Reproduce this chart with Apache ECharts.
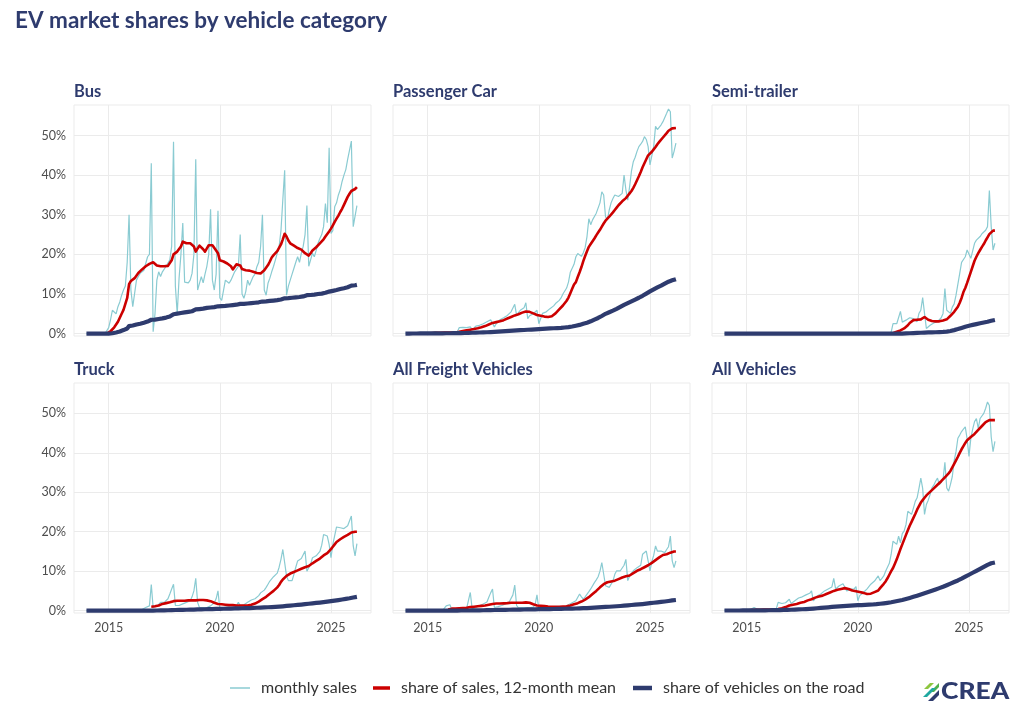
<!DOCTYPE html>
<html><head><meta charset="utf-8">
<script src="https://cdn.jsdelivr.net/npm/echarts@6.0.0/dist/echarts.min.js"></script>
<style>html,body{margin:0;padding:0;background:#fff}#c{width:1024px;height:717px}</style>
</head><body><div id="c"></div>
<script>
// ---- data: monthly values in %, first value = Jan 2014, last = Mar 2026 ----
const startYear = 2014;
const panelNames = ['Bus', 'Passenger Car', 'Semi-trailer', 'Truck', 'All Freight Vehicles', 'All Vehicles'];
const seriesNames = ['monthly sales', 'share of sales, 12-month mean', 'share of vehicles on the road'];
const xTicks = [2015, 2020, 2025];
const yTicks = [0, 10, 20, 30, 40, 50];

const busMonthly = [
0,0,0,0,0,0,0,0,0,0,0,0.5,
1.5,3.5,5.9,5.5,5,6.8,8,9.7,11,12,18,30,
11,6.8,6.3,13.5,14.4,15.2,14.8,16,16.5,19.4,20,43,
0.5,5,13.5,15.6,14.4,15.6,16,17,16.5,18.6,22,48.4,
12,5,14,20,27.9,13,12.8,12.8,13.5,15.2,20,44,
11,11,14.4,12.8,15,17,20,31.4,13.5,11,15,31,
9,8.4,8,13.5,13,12.7,13.5,14,15.6,16,17,25,
10,8.9,10.6,13.5,12.2,12,14.4,15,16.9,18,22,30,
11,9.7,12.7,14,15.6,17,18.6,20.3,22,26,33.8,41.2,
9.7,12,13.5,15,16.5,18,19.4,18,20.3,22,25,32.3,
17,18.6,20.3,19.4,21,22.8,24,25,27,32.8,28,46.9,
25.3,26,32,33,35,36.3,38.4,40,41.4,44,44.3,48.6,
27,27,32.3];
const busMean = [
null,null,null,null,null,null,null,null,null,null,null,0,
0.3,0.6,1,1.6,2.3,3,4,5,6,7.5,9,12.5,
13.3,13.7,14,14.5,15.3,15.8,16.2,16.7,17,17.3,17.6,18,
18,17.7,17.2,17,17,17,17,17,17.1,17.5,18.5,20,
20.3,20.7,21.1,22,23.2,23,22.8,22.8,22.8,22.5,22,20.7,
21.5,22.2,22,21.3,20.7,21.5,22.3,22.8,22.3,22,21,20.3,
18.5,18.3,18.2,18,17.7,17.5,17,16.2,16.5,17.5,17.7,17.2,
16.3,16,16,16,15.9,15.8,15.6,15.5,15.3,15.2,15.2,15.5,
16,16.5,17.3,18.2,19.2,19.8,20.3,20.8,21.3,22.5,23.8,25.2,
24.5,23.5,22.8,22.4,22.2,22,21.6,21.4,21.2,21,20.3,20,
19.7,20.3,21,21.5,21.8,22.2,22.8,23.3,23.8,24.5,25,25.8,
26.5,27.3,28.2,29,29.8,30.7,31.5,32.5,33.5,34.5,35.3,36,
36.3,36.5,37];
const busStock = [
0,0,0,0,0,0,0,0,0,0,0,0,
0,0.05,0.1,0.2,0.3,0.4,0.55,0.75,0.9,1.1,1.3,1.9,
2,2.05,2.15,2.3,2.4,2.5,2.65,2.75,2.9,3.05,3.2,3.5,
3.5,3.55,3.6,3.7,3.75,3.85,3.95,4.05,4.15,4.3,4.45,4.9,
5,5.05,5.15,5.2,5.3,5.35,5.4,5.5,5.55,5.65,5.75,6.1,
6.15,6.2,6.25,6.3,6.4,6.5,6.55,6.6,6.65,6.7,6.75,6.9,
6.95,6.95,7,7,7.05,7.1,7.15,7.2,7.25,7.3,7.35,7.5,
7.5,7.5,7.55,7.6,7.65,7.7,7.75,7.8,7.85,7.9,7.95,8.1,
8.1,8.15,8.2,8.25,8.3,8.35,8.4,8.45,8.55,8.6,8.7,8.9,
8.9,8.95,9,9.05,9.1,9.15,9.2,9.25,9.3,9.4,9.5,9.7,
9.7,9.75,9.8,9.85,9.9,10,10.05,10.1,10.2,10.3,10.45,10.6,
10.7,10.8,10.9,11,11.1,11.25,11.35,11.45,11.55,11.7,11.85,12.1,
12.15,12.2,12.3];

const carMonthly = [
0.1,0.1,0.1,0.1,0.1,0.1,0.1,0.1,0.1,0.1,0.1,0.2,
0.1,0.2,0.2,0.3,0.5,0.2,0.2,0.2,0.2,0.3,0.3,0.4,
0.2,0.2,0.3,0.3,0.4,1.5,1.1,1.6,1.4,1.5,1.6,1.7,
1,1.2,1.9,2,2.1,2.4,2.5,2.7,3,3.2,3.5,3.8,
1.7,2.5,3,3.5,3.8,4,4.2,4.6,5.1,5.5,5.9,7.4,
4.6,5.3,5.9,5.5,6.5,7.8,3.8,4.5,5,5,5.2,5.9,
2.5,3.8,5.1,5.3,5.5,5.9,6.3,6.7,7,7.6,8,8.4,
9,10,10.5,11.5,13,15.5,16,17.5,19.4,20.2,20,19.5,
20.4,21.7,24.5,29,27.5,28.7,28.7,30.4,30.8,33,35.8,35,
29.5,28.7,31.2,33,34.1,35,35.4,34.6,35,35.4,40,36.3,
33.7,37.1,41,43.4,44.5,46,47.2,47.8,48.5,49.7,49,47.2,
42.6,42.2,47.2,52.3,51.5,51.5,52.7,53.5,53.2,55.6,56.7,56,
44.3,46,48.1];
const carMean = [
null,null,null,null,null,null,null,null,null,null,null,0.1,
0.1,0.1,0.15,0.15,0.2,0.2,0.2,0.2,0.2,0.25,0.25,0.25,
0.25,0.25,0.3,0.3,0.35,0.45,0.55,0.65,0.75,0.85,0.95,1,
1.05,1.15,1.25,1.35,1.5,1.6,1.75,1.9,2.1,2.3,2.5,2.7,
2.8,2.9,3,3.1,3.2,3.4,3.6,3.8,4,4.2,4.4,4.6,
4.7,4.9,5.1,5.3,5.5,5.6,5.6,5.5,5.3,5.1,4.9,4.7,
4.6,4.5,4.4,4.3,4.25,4.2,4.25,4.4,4.7,5.1,5.6,6.1,
6.6,7.1,7.6,8.3,9.1,10.2,11.3,12.4,13,14.3,15.5,16.8,
18.3,19.6,20.8,21.9,22.6,23.3,24,24.8,25.5,26.2,27,27.8,
28.5,29,29.5,30,30.6,31.2,31.8,32.4,32.9,33.4,33.9,34.2,
34.8,35.4,36,36.8,37.7,38.7,39.7,40.8,42,43,44,45,
45.3,45.9,46.5,47.1,47.8,48.4,48.9,49.5,50,50.6,51.2,51.6,
51.8,51.9,51.9];
const carStock = [
0.02,0.02,0.02,0.02,0.03,0.03,0.03,0.03,0.04,0.04,0.04,0.05,
0.05,0.05,0.05,0.06,0.06,0.06,0.07,0.07,0.08,0.08,0.09,0.1,
0.1,0.1,0.11,0.11,0.12,0.13,0.14,0.15,0.16,0.17,0.19,0.21,
0.22,0.23,0.25,0.26,0.28,0.3,0.31,0.33,0.35,0.37,0.4,0.43,
0.45,0.48,0.5,0.53,0.56,0.59,0.62,0.65,0.68,0.71,0.74,0.77,
0.8,0.83,0.86,0.89,0.92,0.95,0.98,1,1.03,1.06,1.09,1.12,
1.15,1.18,1.2,1.22,1.25,1.28,1.3,1.33,1.35,1.38,1.4,1.43,
1.45,1.5,1.55,1.6,1.65,1.7,1.8,1.9,2,2.1,2.2,2.35,
2.5,2.6,2.75,2.9,3.1,3.35,3.55,3.75,3.95,4.2,4.45,4.75,
5,5.2,5.4,5.6,5.8,6,6.25,6.5,6.75,7,7.25,7.5,
7.7,7.9,8.15,8.4,8.6,8.85,9.05,9.3,9.55,9.8,10.1,10.4,
10.65,10.9,11.15,11.4,11.65,11.9,12.1,12.35,12.6,12.85,13.1,13.35,
13.45,13.6,13.75];

const semiMonthly = [
0,0,0,0,0,0,0,0,0,0,0,0,
0,0,0,0,0,0,0,0,0,0,0,0,
0,0,0,0,0,0,0,0,0,0,0,0,
0,0,0,0,0,0,0,0,0,0,0,0,
0,0,0,0,0,0,0,0,0,0,0,0,
0,0,0,0,0,0,0,0,0,0,0,0,
0,0,0,0,0,0,0,0,0,0,0,0,
0,0,0,0,0,0,0.4,2.5,2.1,2.5,2.9,5.6,
2.9,3,3.4,3.7,4,4.2,3.8,3.4,3,5.1,5.9,9.1,
5.1,1.3,1.8,2.1,2.5,2.7,3,3,3,4,5.1,11.4,
5.9,5.5,5.1,6.7,7.5,9.7,10.1,15.2,18,17.7,19.4,21.1,
20.7,19,19.4,22.8,23.6,24,24.5,25.2,25.5,26.1,27,36.1,
27,21.1,22.8];
const semiMean = [
null,null,null,null,null,null,null,null,null,null,null,0,
0,0,0,0,0,0,0,0,0,0,0,0,
0,0,0,0,0,0,0,0,0,0,0,0,
0,0,0,0,0,0,0,0,0,0,0,0,
0,0,0,0,0,0,0,0,0,0,0,0,
0,0,0,0,0,0,0,0,0,0,0,0,
0,0,0,0,0,0,0,0,0,0,0,0,
0,0,0,0,0,0,0,0.1,0.3,0.5,0.6,0.8,
1,1.3,1.7,2.1,2.7,3.2,3.4,3.4,3.5,3.5,3.6,3.9,
4.2,3.8,3.5,3.3,3.2,3.2,3.1,3.1,3.1,3.2,3.3,3.4,
3.6,4,4.5,5,5.5,5.9,6.8,7.8,9,10.5,11.5,12.8,
14.2,15.6,17,18.4,19.4,20.3,21.1,21.9,22.6,23.5,24.3,25.1,
25.5,26,26];
const semiStock = [
0,0,0,0,0,0,0,0,0,0,0,0,
0,0,0,0,0,0,0,0,0,0,0,0,
0,0,0,0,0,0,0,0,0,0,0,0,
0,0,0,0,0,0,0,0,0,0,0,0,
0,0,0,0,0,0,0,0,0,0,0,0,
0,0,0,0,0,0,0,0,0,0,0,0,
0,0,0,0,0,0,0,0,0,0,0,0,
0,0,0,0,0,0,0,0,0,0,0,0,
0.02,0.04,0.06,0.08,0.1,0.12,0.14,0.16,0.18,0.2,0.22,0.25,
0.27,0.28,0.29,0.3,0.31,0.33,0.35,0.37,0.39,0.41,0.43,0.47,
0.5,0.58,0.66,0.76,0.88,1,1.15,1.3,1.45,1.6,1.75,1.9,
2,2.1,2.2,2.3,2.4,2.5,2.6,2.7,2.8,2.9,3,3.15,
3.25,3.35,3.45];

const truckMonthly = [
0,0,0,0,0,0,0,0,0,0,0,0,
0,0,0,0,0,0,0,0,0,0,0,0,
0,0,0,0,0,0,0.3,0.5,0.8,1,1.2,6.6,
0.8,0.9,1.1,1.3,2.1,2.5,2.1,2.3,3,4.2,5.5,6.7,
1.3,1.3,1.3,1.5,1.7,1.9,2.1,2.3,2.5,3.5,5,8.2,
2.1,0.8,0.8,0.8,1.2,0.8,1,1.2,1.5,2,3,5,
0.4,0.4,0.5,0.8,0.8,0.8,0.6,0.6,0.7,1.3,2.1,1.3,
1.3,1.5,1.8,2.1,2.3,2.7,2.9,3,3.4,3.8,4.5,5,
5.2,5.9,6.7,7.5,8,8.6,9,9.5,11,13,15.5,15.5,
8.8,7.6,7.6,7.6,9.2,11,12.6,12.8,13.2,13.4,15.1,10,
10.5,11.8,13.4,13.6,13.9,14.3,15,16.6,19.3,19.3,18.9,16.8,
13.4,16.8,19,21.2,21,21,20.8,20.8,21,21.5,21.8,24,
16.4,13.9,17];
const truckMean = [
null,null,null,null,null,null,null,null,null,null,null,null,
null,null,null,null,null,null,null,null,null,null,null,null,
null,null,null,null,null,null,null,null,null,null,null,1,
1.1,1.1,1.2,1.3,1.5,1.7,1.8,1.9,2,2.1,2.3,2.4,
2.5,2.5,2.5,2.5,2.5,2.5,2.5,2.6,2.6,2.6,2.6,2.6,
2.7,2.7,2.7,2.7,2.6,2.6,2.5,2.4,2.2,2,1.9,1.7,
1.6,1.6,1.5,1.5,1.5,1.4,1.4,1.4,1.3,1.3,1.3,1.3,
1.3,1.3,1.3,1.3,1.4,1.5,1.6,1.8,2,2.3,2.6,2.9,
3.2,3.5,3.9,4.3,4.6,5,5.4,5.9,6.5,7.3,7.9,8.4,
8.8,9.2,9.4,9.6,9.8,10,10.2,10.4,10.6,10.8,11,11.1,
11.3,11.6,12,12.3,12.6,12.9,13.2,13.6,14,14.3,14.6,15,
15.6,16.2,16.8,17.4,17.8,18.1,18.4,18.7,18.9,19.2,19.5,19.8,
19.9,20,20];
const truckStock = [
0,0,0,0,0,0,0,0,0,0,0,0,
0,0,0,0,0,0,0,0,0,0,0,0,
0,0,0,0,0,0,0,0,0,0,0,0,
0.02,0.03,0.04,0.05,0.06,0.07,0.08,0.09,0.1,0.12,0.13,0.15,
0.16,0.17,0.18,0.19,0.2,0.21,0.22,0.23,0.25,0.26,0.28,0.3,
0.31,0.32,0.33,0.34,0.35,0.36,0.37,0.38,0.4,0.41,0.43,0.45,
0.46,0.47,0.48,0.49,0.5,0.51,0.52,0.53,0.55,0.56,0.58,0.6,
0.61,0.62,0.63,0.65,0.66,0.68,0.7,0.71,0.73,0.75,0.77,0.8,
0.82,0.84,0.86,0.88,0.9,0.93,0.96,0.99,1.02,1.06,1.1,1.15,
1.2,1.24,1.28,1.32,1.36,1.4,1.44,1.48,1.53,1.58,1.63,1.7,
1.75,1.8,1.85,1.9,1.95,2,2.05,2.1,2.15,2.2,2.27,2.35,
2.4,2.47,2.54,2.61,2.68,2.75,2.82,2.9,2.98,3.06,3.14,3.25,
3.33,3.42,3.5];

const freightMonthly = [
0,0,0,0,0,0,0,0,0,0,0,0,
0,0,0,0,0,0,0,0,0,0.3,1.2,1.5,
1.5,0.3,0.2,0.2,0.2,0.2,0.3,0.3,0.4,0.5,0.8,4.6,
0.5,0.6,0.8,1,1.2,1.5,1.7,1.8,2.2,3.4,4.5,5.5,
0.8,0.8,1,1.2,1.3,1.5,1.7,1.8,2.2,2.5,4,6.5,
1.3,0.7,0.7,0.8,0.8,0.8,0.7,0.7,0.8,0.9,1.5,4,
0.4,0.4,0.4,0.4,0.4,0.4,0.4,0.4,0.4,0.5,1,1.3,
0.5,0.8,1,1.3,1.5,1.8,2,2.1,2.5,2.8,4.2,3.5,
2.9,3.5,4,4.8,5.5,5.9,7.1,7.8,8.6,10,12.2,12.2,
6.3,6,5.9,5.9,7.5,9.2,10.1,10.1,10.1,10.5,11.5,13,
7.6,8.8,9.5,10.1,10.5,10.9,10.9,11.5,14.3,14.7,15.1,12.6,
10.1,12.5,14,16.4,15.1,15.1,15.1,14.9,14.7,15.5,16.2,18.9,
12.6,10.9,12.6];
const freightMean = [
null,null,null,null,null,null,null,null,null,null,null,null,
null,null,null,null,null,null,null,null,null,null,null,0.3,
0.4,0.5,0.5,0.55,0.6,0.6,0.65,0.65,0.7,0.7,0.75,0.9,
1,1,1.05,1.1,1.15,1.2,1.25,1.3,1.4,1.5,1.65,1.7,
1.8,1.8,1.8,1.8,1.8,1.85,1.9,1.9,1.95,2,2,2,
2,2,2,2,2.05,2.1,2.05,2,1.8,1.6,1.45,1.3,
1.3,1.25,1.2,1.15,1.1,1.05,1.05,1,1,1,1,1,
1,1.05,1.1,1.1,1.15,1.3,1.5,1.6,1.75,1.9,2.1,2.3,
2.5,2.8,3.1,3.4,3.8,4.2,4.6,5,5.4,5.9,6.4,6.7,
7,7.2,7.3,7.4,7.5,7.6,7.8,8,8.2,8.4,8.6,8.7,
8.8,8.9,9.2,9.5,9.8,10.1,10.3,10.5,10.8,11,11.3,11.5,
11.8,12.1,12.4,12.8,13.2,13.5,13.8,14.1,14.2,14.3,14.4,14.7,
14.9,15,15];
const freightStock = [
0,0,0,0,0,0,0,0,0,0,0,0,
0,0,0,0,0,0,0,0,0,0,0,0,
0.01,0.01,0.01,0.02,0.02,0.02,0.03,0.03,0.03,0.04,0.04,0.05,
0.06,0.07,0.07,0.08,0.09,0.1,0.1,0.11,0.12,0.13,0.14,0.15,
0.16,0.17,0.17,0.18,0.19,0.2,0.2,0.21,0.22,0.23,0.24,0.25,
0.26,0.27,0.27,0.28,0.29,0.3,0.3,0.31,0.32,0.33,0.34,0.35,
0.36,0.36,0.37,0.38,0.39,0.39,0.4,0.41,0.42,0.43,0.44,0.45,
0.46,0.47,0.48,0.49,0.5,0.51,0.52,0.53,0.54,0.56,0.58,0.6,
0.62,0.64,0.66,0.68,0.7,0.72,0.75,0.78,0.81,0.84,0.87,0.9,
0.93,0.96,0.99,1.02,1.05,1.08,1.11,1.14,1.18,1.22,1.26,1.3,
1.34,1.38,1.42,1.46,1.5,1.54,1.58,1.62,1.67,1.72,1.78,1.85,
1.9,1.95,2,2.05,2.1,2.15,2.2,2.26,2.32,2.38,2.45,2.55,
2.6,2.65,2.7];

const allMonthly = [
0.1,0.1,0.1,0.1,0.1,0.1,0.1,0.1,0.1,0.1,0.1,0.2,
0.1,0.2,0.3,0.4,0.8,0.4,0.3,0.3,0.3,0.3,0.4,0.5,
0.3,0.3,0.4,0.4,0.5,2.1,1.8,1.8,1.9,2,2.1,2.9,
1.8,2.3,2.5,2.9,3.2,3.4,3.5,3.7,4,4.2,4.4,5,
2.5,2.9,3.7,4,4.2,4.6,5,5,5.5,5.9,6,8.2,
5.5,5.9,6.3,6.5,6.8,7.1,5,5.5,5.4,5,5.5,6.1,
2.5,3.8,4.2,4.6,5,5.5,5.9,6.7,7.1,7.5,7.6,8.8,
7.6,8.2,8.8,10,10.5,12,14.3,17.6,17.2,16.8,18.9,17.2,
19.5,20.2,21.8,25.2,24.8,24.4,26,27.7,28.6,31,33.6,31,
24.4,26.9,28,29.4,31.1,31.8,32.8,33.6,31.9,32.5,33.2,37.6,
31.1,30.3,32,34,38,40.3,43.7,44.5,45.4,46,46.6,43.5,
39.1,43.7,46,47.9,48.7,46.2,48.7,49.2,50,51.3,52.9,52,
44,40.3,42.9];
const allMean = [
null,null,null,null,null,null,null,null,null,null,null,0.1,
0.1,0.1,0.1,0.15,0.15,0.2,0.2,0.2,0.2,0.25,0.25,0.3,
0.3,0.3,0.3,0.35,0.35,0.4,0.5,0.6,0.8,0.9,1.1,1.3,
1.4,1.5,1.6,1.7,1.8,2,2.1,2.2,2.4,2.6,2.7,2.9,
3.1,3.3,3.4,3.6,3.7,3.8,4,4.2,4.4,4.6,4.8,5,
5.2,5.3,5.4,5.5,5.6,5.7,5.6,5.5,5.3,5.1,5,4.9,
4.8,4.7,4.6,4.5,4.3,4.2,4.2,4.3,4.5,4.7,4.9,5.1,
5.7,6.2,6.8,7.4,8.2,9.1,10,10.8,11.9,13,14.3,15.6,
16.8,18,19.2,20.4,21.5,22.5,23.5,24.5,25.6,26.5,27.4,28,
28.6,29.2,29.7,30.1,30.6,31,31.5,31.9,32.3,32.8,33.3,33.8,
34.2,34.8,35.4,36.3,37.2,38.1,39,40,40.9,41.7,42.5,43.2,
43.6,44,44.4,44.8,45.3,45.8,46.3,46.8,47.3,47.8,48.1,48.3,
48.3,48.3,48.3];
const allStock = [
0.03,0.03,0.03,0.03,0.03,0.04,0.04,0.04,0.04,0.04,0.05,0.05,
0.05,0.05,0.06,0.06,0.06,0.07,0.07,0.07,0.08,0.08,0.09,0.1,
0.1,0.11,0.11,0.12,0.13,0.14,0.15,0.16,0.17,0.18,0.19,0.21,
0.23,0.25,0.27,0.29,0.31,0.33,0.35,0.37,0.39,0.42,0.45,0.48,
0.52,0.56,0.6,0.64,0.68,0.72,0.76,0.8,0.84,0.88,0.93,0.98,
1.02,1.05,1.08,1.11,1.14,1.17,1.2,1.23,1.26,1.29,1.32,1.35,
1.38,1.4,1.42,1.44,1.46,1.48,1.5,1.53,1.56,1.6,1.64,1.7,
1.75,1.8,1.86,1.92,1.98,2.05,2.12,2.2,2.3,2.4,2.5,2.6,
2.7,2.82,2.95,3.08,3.22,3.36,3.5,3.65,3.8,3.95,4.1,4.25,
4.4,4.55,4.7,4.86,5.02,5.18,5.35,5.52,5.7,5.88,6.06,6.25,
6.45,6.65,6.85,7.05,7.25,7.45,7.65,7.85,8.1,8.35,8.6,8.85,
9.1,9.35,9.6,9.85,10.1,10.35,10.6,10.85,11.1,11.35,11.6,11.85,
12,12.1,12.2];

const monthlyByPanel = [busMonthly, carMonthly, semiMonthly, truckMonthly, freightMonthly, allMonthly];
const meanByPanel = [busMean, carMean, semiMean, truckMean, freightMean, allMean];
const stockByPanel = [busStock, carStock, semiStock, truckStock, freightStock, allStock];

// ---- chart ----
const NAVY = '#2E3B6E', RED = '#CC0000', TEAL = '#8ACBD2';
const FONT = 'Lato';
const colLeft = [74, 393, 712], rowTop = [105, 383];
const gridW = 297, gridH = 230;

function pairs(arr) {
  const out = [];
  arr.forEach((v, i) => { if (v !== null) out.push([startYear + i / 12, v]); });
  return out;
}

const grids = [], xAxes = [], yAxes = [], series = [], titles = [];
titles.push({
  text: 'EV market shares by vehicle category', left: 15, top: 9, padding: 0,
  textStyle: { fontFamily: FONT, fontSize: 22.5, fontWeight: 'bold', color: NAVY }
});
panelNames.forEach((name, k) => {
  const r = Math.floor(k / 3), c = k % 3;
  grids.push({ left: colLeft[c], top: rowTop[r], width: gridW, height: gridH + (r === 0 ? 1 : 0),
    show: true, borderColor: '#ebebeb', borderWidth: 1, backgroundColor: '#fff' });
  titles.push({ text: name, left: colLeft[c], top: rowTop[r] - 22, padding: 0,
    textStyle: { fontFamily: FONT, fontSize: 16.5, fontWeight: 'bold', color: NAVY } });
  xAxes.push({
    type: 'value', gridIndex: k, min: 2013.44, max: 2026.8,
    axisLine: { show: false },
    axisTick: { show: false, customValues: xTicks },
    axisLabel: { show: r === 1, customValues: xTicks, formatter: v => String(v), color: '#4d4d4d', fontFamily: FONT, fontSize: 12.5, margin: 8 },
    splitLine: { show: true, lineStyle: { color: '#ebebeb', width: 1 } }
  });
  yAxes.push({
    type: 'value', gridIndex: k, min: -0.6, max: 57.7,
    axisLine: { show: false },
    axisTick: { show: false, customValues: yTicks },
    axisLabel: { show: c === 0, customValues: yTicks, formatter: v => v + '%', color: '#4d4d4d', fontFamily: FONT, fontSize: 12.5, margin: 8 },
    splitLine: { show: true, lineStyle: { color: '#ebebeb', width: 1 } }
  });
  series.push({ name: seriesNames[0], type: 'line', xAxisIndex: k, yAxisIndex: k, data: pairs(monthlyByPanel[k]),
    showSymbol: false, symbol: 'none', lineStyle: { color: TEAL, width: 1.2 }, itemStyle: { color: TEAL }, silent: true, z: 2 });
  series.push({ name: seriesNames[1], type: 'line', xAxisIndex: k, yAxisIndex: k, data: pairs(meanByPanel[k]),
    showSymbol: false, symbol: 'none', lineStyle: { color: RED, width: 2.6, join: 'round' }, itemStyle: { color: RED }, silent: true, z: 3 });
  series.push({ name: seriesNames[2], type: 'line', xAxisIndex: k, yAxisIndex: k, data: pairs(stockByPanel[k]),
    showSymbol: false, symbol: 'none', lineStyle: { color: NAVY, width: 4.2, join: 'round' }, itemStyle: { color: NAVY }, silent: true, z: 4 });
});

const legendText = { fontFamily: FONT, fontSize: 16, color: '#333', padding: [0, 0, 0, 6] };
const legends = [
  { data: [seriesNames[0]], left: 230, itemWidth: 20, itemHeight: 1.5 },
  { data: [seriesNames[1]], left: 373, itemWidth: 17, itemHeight: 3.5 },
  { data: [seriesNames[2]], left: 633, itemWidth: 19, itemHeight: 4.5 }
].map(l => Object.assign({ top: 680, icon: 'rect', selectedMode: false, textStyle: legendText, padding: 0 }, l));

const chart = echarts.init(document.getElementById('c'), null, { renderer: 'canvas' });
chart.setOption({
  backgroundColor: '#fff',
  animation: false,
  title: titles,
  legend: legends,
  grid: grids,
  xAxis: xAxes,
  yAxis: yAxes,
  series: series,
  graphic: [
    { type: 'polygon', shape: { points: [[924, 689], [930, 683], [934, 683], [928, 689]] }, style: { fill: '#8DC63F' } },
    { type: 'polygon', shape: { points: [[930, 692], [939, 683], [939, 687], [934, 692]] }, style: { fill: '#4FB04A' } },
    { type: 'polygon', shape: { points: [[923, 697], [932, 688], [936, 688], [927, 697]] }, style: { fill: '#1FA8A0' } },
    { type: 'polygon', shape: { points: [[928, 701], [939, 690], [939, 695], [933, 701]] }, style: { fill: NAVY } },
    { type: 'text', x: 941, y: 692, scaleX: 1.2, scaleY: 1,
      style: { text: 'CREA', fontFamily: FONT, fontSize: 22, fontWeight: 900, fill: NAVY, textVerticalAlign: 'middle', verticalAlign: 'middle' } }
  ]
});
</script></body></html>
